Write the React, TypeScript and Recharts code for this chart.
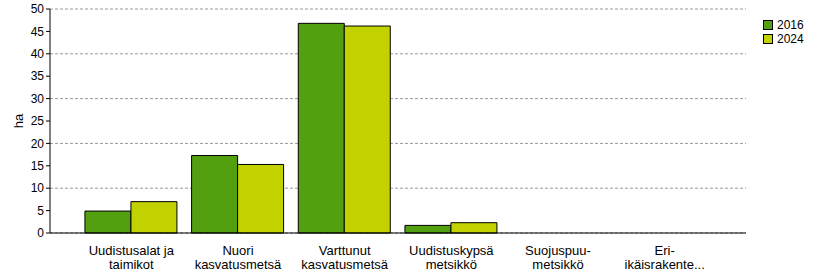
import React from 'react';
import { BarChart, Bar, XAxis, YAxis, CartesianGrid } from 'recharts';

// Forest area by development class (ha)
const categories = [
  'Uudistusalat ja taimikot',
  'Nuori kasvatusmetsä',
  'Varttunut kasvatusmetsä',
  'Uudistuskypsä metsikkö',
  'Suojuspuumetsikkö',
  'Eri-ikäisrakenteinen',
];
const tickLines = [
  ['Uudistusalat ja', 'taimikot'],
  ['Nuori', 'kasvatusmetsä'],
  ['Varttunut', 'kasvatusmetsä'],
  ['Uudistuskypsä', 'metsikkö'],
  ['Suojuspuu-', 'metsikkö'],
  ['Eri-', 'ikäisrakente...'],
];
const values2016 = [4.9, 17.3, 46.8, 1.7, 0, 0];
const values2024 = [7.0, 15.3, 46.2, 2.3, 0, 0];
const yTicks = [0, 5, 10, 15, 20, 25, 30, 35, 40, 45, 50];

const series = [
  { key: 'y2016', name: '2016', color: '#52a00f' },
  { key: 'y2024', name: '2024', color: '#c2d100' },
];

const FONT = "Arial, 'Liberation Sans', sans-serif";

const data = categories.map((name, i) => ({
  name,
  y2016: values2016[i],
  y2024: values2024[i],
}));

const CategoryTick = ({ x, y, index }: any) => {
  const lines = tickLines[index] || [];
  return (
    <text x={x} y={y} textAnchor="middle" fontFamily={FONT} fontSize={13} fill="#000">
      {lines.map((l, i) => (
        <tspan key={i} x={x} dy={14}>
          {l}
        </tspan>
      ))}
    </text>
  );
};

export default function App() {
  return (
    <div style={{ position: 'fixed', left: 0, top: 0, width: 816, height: 280, background: '#fff' }}>
      <BarChart
        width={816}
        height={280}
        data={data}
        margin={{ top: 9, right: 70, bottom: 7, left: 0 }}
        barCategoryGap="6.5%"
        barGap={0}
      >
        <CartesianGrid vertical={false} stroke="#999" strokeDasharray="3 2" />
        <XAxis
          dataKey="name"
          height={40}
          padding={{ left: 28, right: 28 }}
          tickLine={false}
          axisLine={{ stroke: '#000' }}
          tick={<CategoryTick />}
          interval={0}
        />
        <YAxis
          width={50}
          domain={[0, 50]}
          ticks={yTicks}
          tickSize={4}
          tickLine={{ stroke: '#000' }}
          axisLine={{ stroke: '#000' }}
          tick={{ fill: '#000', fontSize: 12, fontFamily: FONT }}
          label={{ value: 'ha', angle: -90, position: 'center', dx: -7, fill: '#000', fontSize: 13, fontFamily: FONT }}
        />
        {series.map((s) => (
          <Bar key={s.key} dataKey={s.key} name={s.name} fill={s.color} stroke="#000" strokeWidth={1} isAnimationActive={false} />
        ))}
      </BarChart>
      <div style={{ position: 'absolute', left: 763, top: 18, fontFamily: FONT, fontSize: 12, color: '#000', lineHeight: '14px' }}>
        {series.map((s) => (
          <div key={s.key} style={{ display: 'flex', alignItems: 'center', height: 14 }}>
            <span style={{ display: 'inline-block', width: 8, height: 8, background: s.color, border: '1px solid #000', marginRight: 4 }} />
            <span>{s.name}</span>
          </div>
        ))}
      </div>
    </div>
  );
}
